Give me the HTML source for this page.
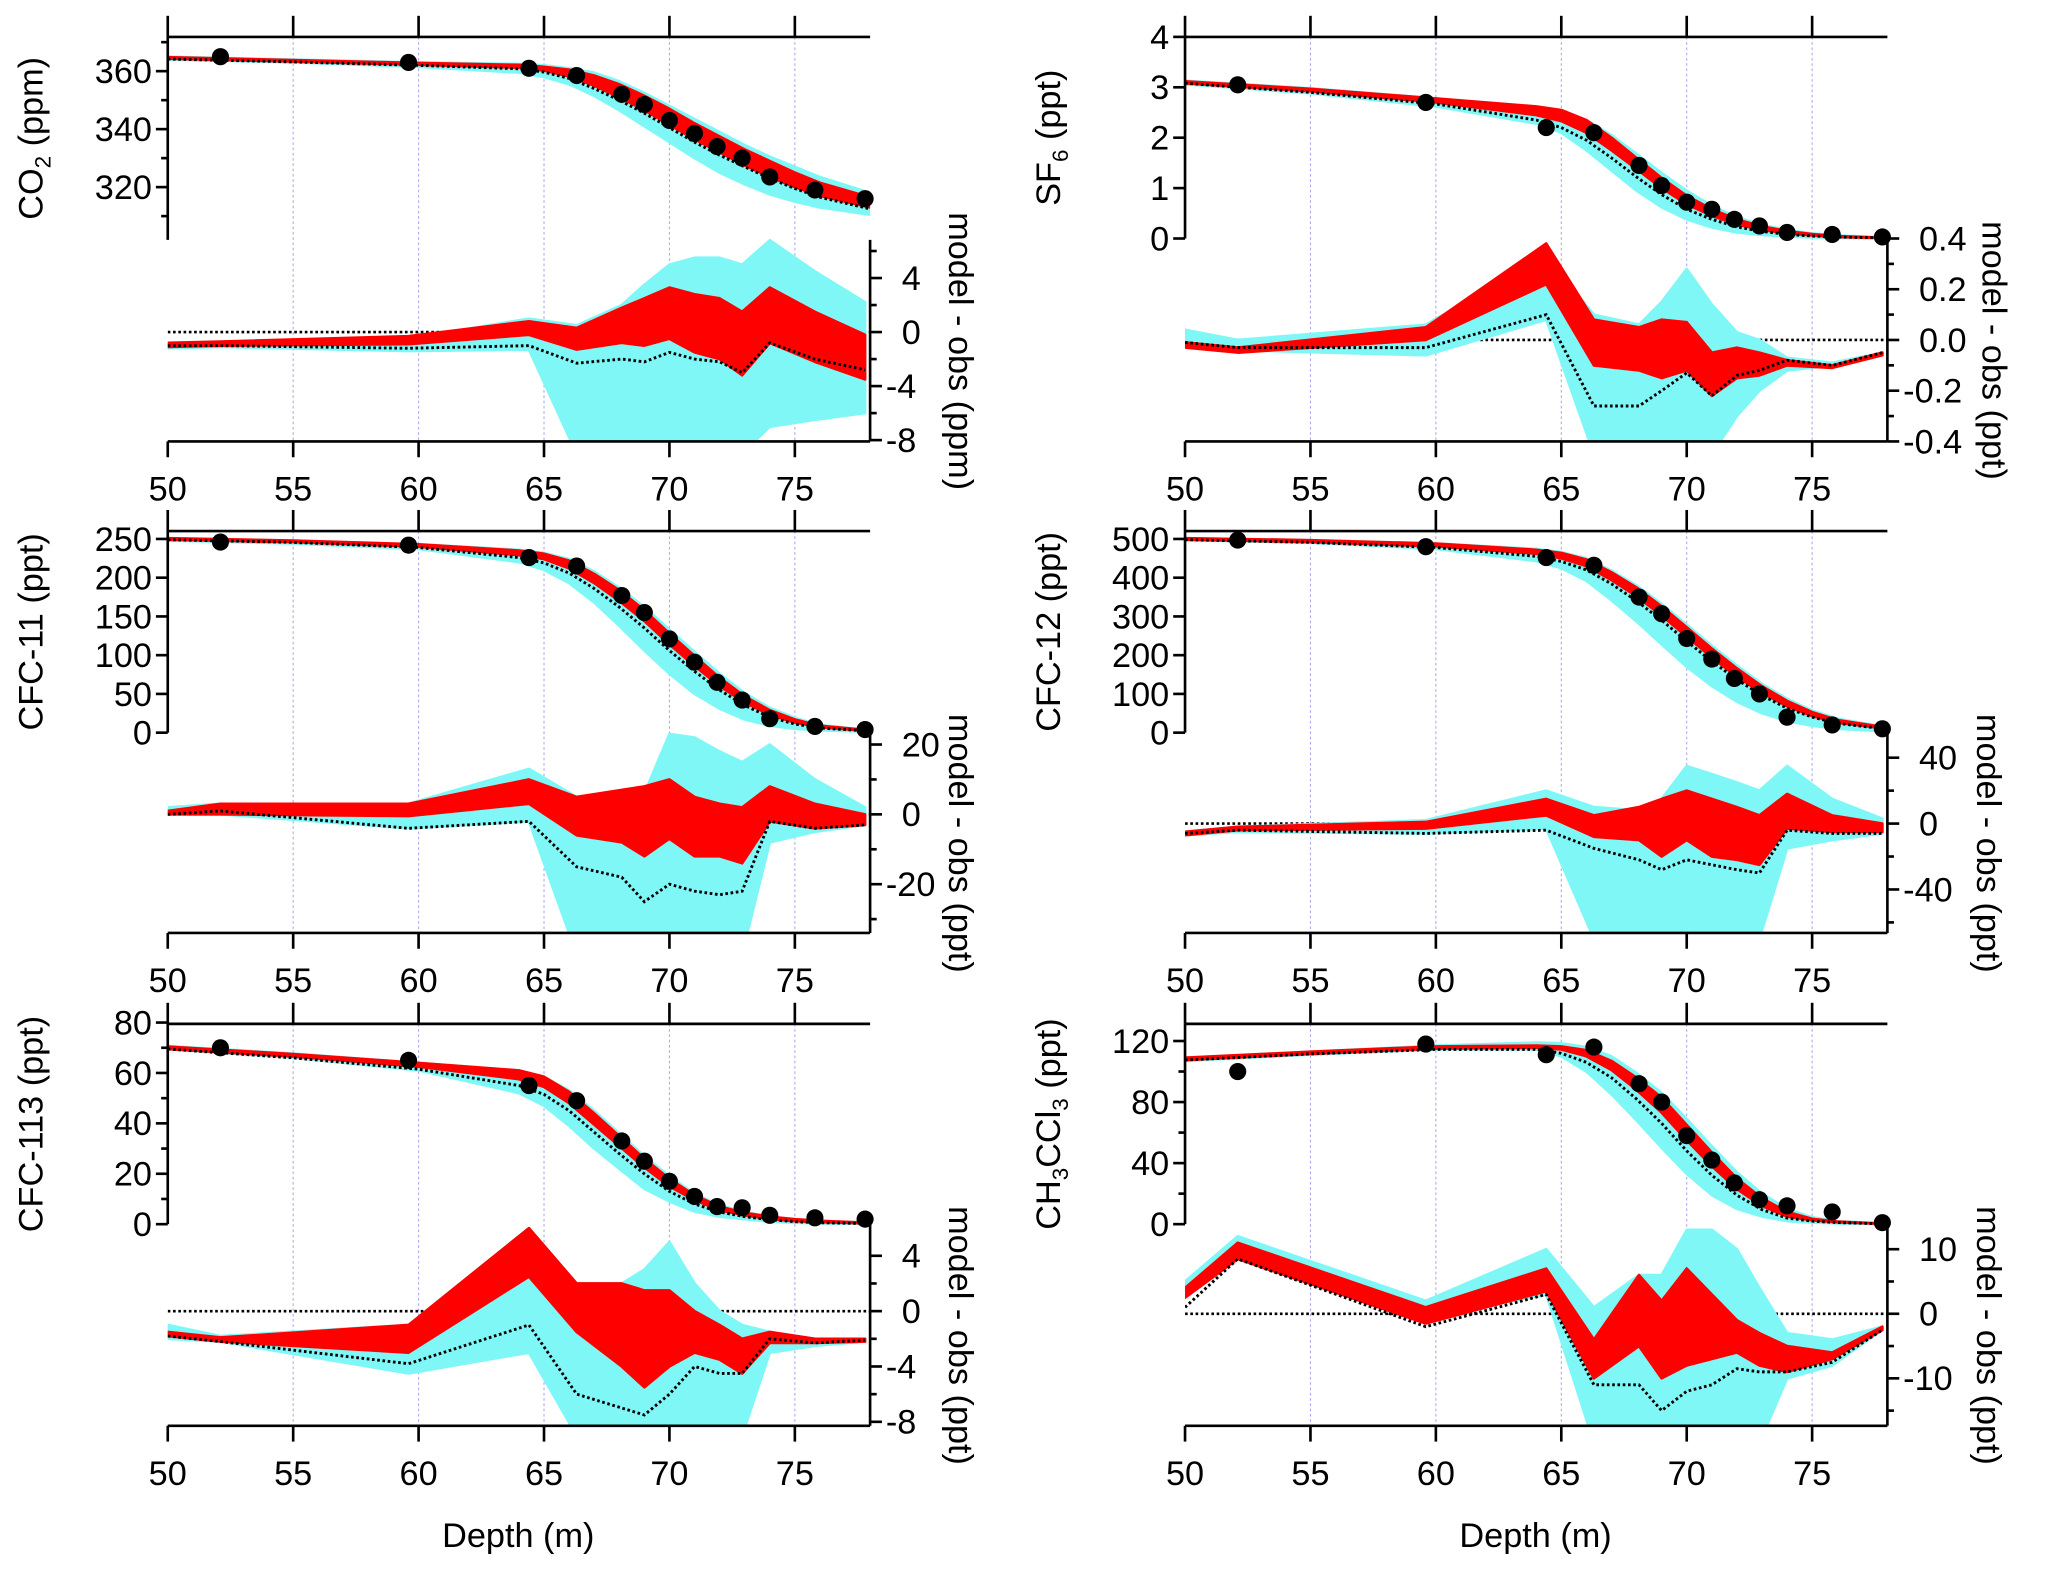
<!DOCTYPE html>
<html><head><meta charset="utf-8">
<style>
html,body{margin:0;padding:0;background:#fff;}
svg{display:block;font-family:"Liberation Sans Narrow","Liberation Sans",sans-serif;}
.tk{font-size:26px;fill:#000;}
.ttl{font-family:"Liberation Sans",sans-serif;font-size:26px;fill:#000;}
</style></head>
<body>
<svg id="chart" width="2067" height="1576" viewBox="0 0 1568 1196" xmlns="http://www.w3.org/2000/svg"></svg>
<script>
// ---------- shared depths ----------
const topDepth=[50,55,60,64,65,66,67,68,69,70,71,72,73,74,75,76,78];
const resDepth=[50,52.1,59.6,64.4,66.3,68.1,69,70,71,72,72.9,74,75.8,77.8];
const obsDepth=[52.1,59.6,64.4,66.3,68.1,69,70,71,71.9,72.9,74,75.8,77.8];
const xTicks=[50,55,60,65,70,75];

// ---------- CO2 ----------
const co2RedHi=[364.8,363.8,362.8,362.2,361.5,360.5,358.5,355.5,351.5,347,342,337.5,333,329,325,321.5,316.5];
const co2RedLo=[364.3,363.3,362.2,361.2,360.2,358.2,355,351,346.5,341.5,336.5,332,327.5,323.5,320,317,313];
const co2CyHi=[365,364,363,362.5,362,361,359.5,356.5,352.5,348,343.5,339,334.5,330.5,327,323.5,318];
const co2CyLo=[364,363,361.5,359.5,358,355.5,351.5,346.5,341,335.5,330,325,321,317.5,315,313,310.5];
const co2Dot=[364.2,363.2,362,360.8,359.7,357.5,354,350,345.5,340.5,335.5,331,327,323,319.5,316.5,312.5];
const co2Obs=[365,363,361,358.5,352,348.5,343,338.5,334,330,323.5,319,316];
const co2ResRedHi=[-0.8,-0.7,-0.3,0.8,0.3,1.8,2.5,3.3,2.8,2.5,1.5,3.3,1.5,-0.2];
const co2ResRedLo=[-1.1,-1,-0.9,-0.2,-1.3,-0.8,-1,-0.5,-1.5,-2,-3.2,-0.8,-2.2,-3.5];
const co2ResCyHi=[-0.9,-0.8,-0.5,1,0.5,2,3.5,5,5.5,5.5,5,6.8,4.5,2.2];
const co2ResCyLo=[-1.2,-1.1,-1.4,-1.3,-9,-9,-9,-9,-9,-9,-9,-7,-6.5,-6];
const co2ResDot=[-1,-1,-1.2,-1,-2.3,-2,-2.2,-1.5,-2,-2.2,-3,-0.8,-2,-2.8];
const co2Labels=[320,340,360], co2Minor=[310,330,350,370];
const co2ResLabels=[-8,-4,0,4], co2ResMinor=[-6,-2,2,6];

// ---------- SF6 ----------
const sf6RedHi=[3.12,2.97,2.78,2.62,2.55,2.35,2.0,1.6,1.2,0.85,0.58,0.38,0.24,0.15,0.09,0.05,0.01];
const sf6RedLo=[3.08,2.92,2.7,2.45,2.33,2.1,1.75,1.38,1.0,0.68,0.45,0.28,0.17,0.1,0.06,0.03,0.01];
const sf6CyHi=[3.13,2.98,2.78,2.6,2.52,2.35,2.05,1.68,1.3,0.95,0.65,0.42,0.27,0.17,0.1,0.06,0.02];
const sf6CyLo=[3.06,2.88,2.62,2.28,2.1,1.75,1.35,0.95,0.62,0.38,0.22,0.12,0.07,0.04,0.02,0.01,0];
const sf6Dot=[3.08,2.9,2.67,2.35,2.2,1.95,1.6,1.22,0.87,0.58,0.38,0.23,0.14,0.08,0.05,0.03,0.01];
const sf6Obs=[3.05,2.7,2.2,2.1,1.45,1.05,0.72,0.58,0.38,0.25,0.12,0.08,0.03];
const sf6ResRedHi=[-0.01,-0.03,0.05,0.38,0.08,0.05,0.08,0.07,-0.05,-0.03,-0.05,-0.08,-0.1,-0.05];
const sf6ResRedLo=[-0.03,-0.05,0.0,0.22,-0.1,-0.12,-0.15,-0.12,-0.22,-0.15,-0.14,-0.1,-0.11,-0.06];
const sf6ResCyHi=[0.04,0.0,0.06,0.33,0.1,0.06,0.15,0.28,0.14,0.03,0.0,-0.07,-0.09,-0.05];
const sf6ResCyLo=[0.0,-0.04,-0.06,0.08,-0.45,-0.45,-0.45,-0.45,-0.45,-0.3,-0.2,-0.12,-0.1,-0.06];
const sf6ResDot=[-0.01,-0.03,-0.03,0.1,-0.26,-0.26,-0.2,-0.13,-0.22,-0.14,-0.12,-0.08,-0.1,-0.05];
const sf6Labels=[0,1,2,3,4], sf6Minor=[];
const sf6ResLabels=[-0.4,-0.2,0,0.2,0.4], sf6ResMinor=[-0.3,-0.1,0.1,0.3];

// ---------- CFC-11 ----------
const f11RedHi=[251,248,243,235,231,222,205,184,158,128,99,71,47,29,17,9,3];
const f11RedLo=[249,246,240,229,224,212,193,170,144,114,86,60,39,23,13,7,2];
const f11CyHi=[251,248,243,236,232,224,208,187,162,133,104,76,51,32,19,10,3];
const f11CyLo=[248,244,237,220,210,193,168,138,106,76,50,31,17,9,5,3,1];
const f11Dot=[249,245.5,239,226,219,206,186,162,135,106,79,55,35,20,11,6,2];
const f11Obs=[246,242,226,215,177,155,121,91,65,42,18,8,4];
const f11ResRedHi=[1,3,3,10,5,7,8,10,5,3,2,8,3,0];
const f11ResRedLo=[0,0,-0.5,3,-6,-8,-12,-7,-12,-12,-14,-2,-4,-3];
const f11ResCyHi=[2,3,3,13,5,3,6,23,22,18,15,20,10,2];
const f11ResCyLo=[0,0,-4,-2,-40,-40,-40,-40,-40,-40,-40,-8,-5,-3];
const f11ResDot=[0,1,-4,-2,-15,-18,-25,-20,-22,-23,-22,-2,-4,-3];
const f11Labels=[0,50,100,150,200,250], f11Minor=[];
const f11ResLabels=[-20,0,20], f11ResMinor=[-30,-10,10];

// ---------- CFC-12 ----------
const f12RedHi=[502,497,488,472,464,447,414,375,326,272,217,166,120,82,53,33,13];
const f12RedLo=[498,492,481,462,450,430,394,352,302,248,194,145,102,68,43,26,10];
const f12CyHi=[502,497,488,474,466,450,418,380,332,279,224,173,126,87,57,36,14];
const f12CyLo=[497,490,474,443,425,392,342,287,228,170,120,80,50,30,18,10,3];
const f12Dot=[498,491,478,455,442,420,384,340,290,236,184,137,96,63,40,24,9];
const f12Obs=[497,480,452,432,350,307,243,190,140,100,40,20,10];
const f12ResRedHi=[-5,-2,1,15,5,10,15,20,15,10,5,18,5,0];
const f12ResRedLo=[-7,-4,-3,5,-8,-10,-20,-10,-20,-22,-25,-3,-5,-5];
const f12ResCyHi=[-5,-2,2,20,10,8,15,35,30,25,20,35,15,3];
const f12ResCyLo=[-7,-5,-6,-3,-70,-70,-70,-70,-70,-70,-70,-15,-10,-6];
const f12ResDot=[-6,-4,-6,-4,-15,-22,-28,-22,-25,-28,-30,-4,-6,-6];
const f12Labels=[0,100,200,300,400,500], f12Minor=[];
const f12ResLabels=[-40,0,40], f12ResMinor=[-60,-20,20];

// ---------- CFC-113 ----------
const f113RedHi=[70.5,67.5,64,61,58.5,52.5,44,35,26,18,11.5,7,4.5,3,2,1.3,0.5];
const f113RedLo=[69.5,66.5,62.5,57.5,54.5,48,39.5,31,22.5,15,9.5,5.5,3.5,2,1.2,0.8,0.3];
const f113CyHi=[70.7,67.7,64,61,58.5,53,45,36,27,19,12,7.5,4.8,3,2,1.3,0.5];
const f113CyLo=[69.5,66,61,52,47,39,30,22,14,9,5,3,2,1,0.5,0.3,0.1];
const f113Dot=[69.5,66,61.5,55,51.5,45,36.5,28,20,13,8,4.8,3,1.8,1,0.6,0.2];
const f113Obs=[70,65,55,49,33,25,17,11,7,6.5,3.5,2.5,2];
const f113ResRedHi=[-1.5,-1.9,-1,6,2,2,1.5,1.5,0,-1,-2,-1.5,-2,-2];
const f113ResRedLo=[-1.8,-2.2,-3,2.5,-1.5,-4,-5.5,-4,-3,-3.5,-4.5,-2.3,-2.3,-2.2];
const f113ResCyHi=[-1,-1.8,-1,6,2,2,3,5,2,0,-1,-1.5,-2,-2];
const f113ResCyLo=[-2,-2.2,-4.5,-3,-9,-9,-9,-9,-9,-9,-9,-3,-2.5,-2.2];
const f113ResDot=[-1.8,-2.2,-3.8,-1,-6,-7,-7.5,-6,-4,-4.5,-4.5,-2,-2.3,-2.1];
const f113Labels=[0,20,40,60,80], f113Minor=[10,30,50,70];
const f113ResLabels=[-8,-4,0,4], f113ResMinor=[-6,-2,2];

// ---------- CH3CCl3 ----------
const mcRedHi=[109,113,116.5,117,116.5,114,107,96,83,65,47,30,17,8,3.5,1.7,0.3];
const mcRedLo=[107.5,111.5,115,115.5,114.5,110,101,88,73,55,38,23,12,5,2.5,1.2,0.2];
const mcCyHi=[109,113,117,119,118.5,116,110,99,86,69,51,34,20,10,4.5,2,0.4];
const mcCyLo=[107,111,114.5,114.5,110,100,85,68,50,33,19,10,5,2,1,0.5,0];
const mcDot=[107.5,111.5,114.5,114.5,112,106,96,82,66,48,32,19,9.5,4,2,1,0.2];
const mcObs=[100,118,111,116,92,80,58,42,27,16,12,8,1];
const mcResRedHi=[4,11,1,7,-4,6,2,7,3,-1,-3,-5,-6,-2];
const mcResRedLo=[2.5,8.5,-1.5,3.5,-10,-5,-10,-8,-7,-6,-8,-9,-7,-2.5];
const mcResCyHi=[5,12,2,10,1,6,6,13,13,10,4,-3,-4,-2];
const mcResCyLo=[3,10,-0.5,3,-20,-20,-20,-20,-20,-20,-20,-10,-8,-2.5];
const mcResDot=[1,8.5,-2,3,-11,-11,-15,-12,-11,-8.5,-9,-9,-7.5,-2.5];
const mcLabels=[0,40,80,120], mcMinor=[20,60,100];
const mcResLabels=[-10,0,10], mcResMinor=[-15,-5,5];

const svg=document.getElementById('chart');
const NS='http://www.w3.org/2000/svg';
function mk(tag,attrs,parent){const e=document.createElementNS(NS,tag);for(const k in attrs)e.setAttribute(k,attrs[k]);(parent||svg).appendChild(e);return e;}
function lin(v1,p1,v2,p2){return v=>p1+(v-v1)*(p2-p1)/(v2-v1);}
let clipId=0;
function band(g,xs,hi,lo,xf,yf,color,name){
  let d='M'+xs.map((x,i)=>xf(x).toFixed(1)+','+yf(hi[i]).toFixed(1)).join('L');
  for(let i=xs.length-1;i>=0;i--)d+='L'+xf(xs[i]).toFixed(1)+','+yf(lo[i]).toFixed(1);
  const p=mk('path',{d:d+'Z',fill:color,stroke:color,'stroke-width':2,'stroke-linejoin':'round'},g);
  
  
}
function line(g,xs,ys,xf,yf,attrs,name){
  const p=mk('polyline',Object.assign({points:xs.map((x,i)=>xf(x).toFixed(1)+','+yf(ys[i]).toFixed(1)).join(' '),fill:'none'},attrs),g);
  
  
}
function fmt(v,dec){return dec?v.toFixed(dec):String(v);}

function panel(o){
  const g=mk('g',{});
  
  
  const xf=lin(50,o.x0,78,o.x1);
  const yT=lin(o.tv1,o.tp1,o.tv2,o.tp2);
  const yR=lin(o.rv1,o.rp1,o.rv2,o.rp2);
  xTicks.slice(1).forEach(t=>{const l=mk('line',{x1:xf(t),x2:xf(t),y1:o.top,y2:o.bot,stroke:'#a8a8f0','stroke-width':0.8,'stroke-dasharray':'2,2'},g);
    });
  const c1='c'+(clipId++),c2='c'+(clipId++);
  const defs=mk('defs',{},g);
  const cp1=mk('clipPath',{id:c1},defs);mk('rect',{x:o.x0,y:o.top,width:o.x1-o.x0,height:o.mid-o.top+6},cp1);
  const cp2=mk('clipPath',{id:c2},defs);mk('rect',{x:o.x0,y:o.top,width:o.x1-o.x0,height:o.bot-o.top},cp2);
  const gr=mk('g',{'clip-path':'url(#'+c2+')'},g);
  
  line(gr,[50,78],[0,0],xf,yR,{stroke:'#000','stroke-width':2,'stroke-dasharray':'2,2'},'zero-line');
  band(gr,resDepth,o.rCyHi,o.rCyLo,xf,yR,'#7ff7f7','residual-cyan-ensemble');
  band(gr,resDepth,o.rRedHi,o.rRedLo,xf,yR,'#ff0000','residual-red-ensemble');
  line(gr,resDepth,o.rDot,xf,yR,{stroke:'#000','stroke-width':2.2,'stroke-dasharray':'2,2'},'residual-reference-line');
  const gt=mk('g',{'clip-path':'url(#'+c1+')'},g);
  
  band(gt,topDepth,o.cyHi,o.cyLo,xf,yT,'#7ff7f7','profile-cyan-ensemble');
  band(gt,topDepth,o.redHi,o.redLo,xf,yT,'#ff0000','profile-red-ensemble');
  line(gt,topDepth,o.dot,xf,yT,{stroke:'#000','stroke-width':2.2,'stroke-dasharray':'2,2'},'profile-reference-line');
  o.obs.forEach((v,i)=>{const c=mk('circle',{cx:xf(obsDepth[i]),cy:yT(v),r:6.5,fill:'#000'},g);
    });
  const A={stroke:'#000','stroke-width':2};
  mk('line',Object.assign({x1:o.x0,x2:o.x1,y1:o.top,y2:o.top},A),g);
  mk('line',Object.assign({x1:o.x0,x2:o.x1,y1:o.bot,y2:o.bot},A),g);
  mk('line',Object.assign({x1:o.x0,x2:o.x0,y1:o.top,y2:o.mid},A),g);
  mk('line',Object.assign({x1:o.x1,x2:o.x1,y1:o.mid,y2:o.bot},A),g);
  xTicks.forEach(t=>{
    mk('line',Object.assign({x1:xf(t),x2:xf(t),y1:o.top-16,y2:o.top},A),g);
    mk('line',Object.assign({x1:xf(t),x2:xf(t),y1:o.bot,y2:o.bot+12},A),g);
    const tx=mk('text',{x:xf(t),y:o.bot+45,'text-anchor':'middle',class:'tk'},g);tx.textContent=t;
    
  });
  o.tl.forEach(v=>{const y=yT(v);mk('line',Object.assign({x1:o.x0-9,x2:o.x0,y1:y,y2:y},A),g);
    const tx=mk('text',{x:o.x0-12,y:y+9,'text-anchor':'end',class:'tk'},g);tx.textContent=fmt(v,0);
    });
  o.tm.forEach(v=>{const y=yT(v);if(y>=o.top&&y<=o.mid)mk('line',Object.assign({x1:o.x0-5,x2:o.x0,y1:y,y2:y},A),g);});
  o.rl.forEach(v=>{const y=yR(v);mk('line',Object.assign({x1:o.x1,x2:o.x1+9,y1:y,y2:y},A),g);
    const tx=mk('text',{x:o.x1+(v<0?12:24),y:y+9,'text-anchor':'start',class:'tk'},g);tx.textContent=fmt(v,o.rdec);
    });
  o.rm.forEach(v=>{const y=yR(v);if(y>=o.mid&&y<=o.bot)mk('line',Object.assign({x1:o.x1,x2:o.x1+5,y1:y,y2:y},A),g);});
  const lt=mk('text',{x:0,y:0,class:'ttl','text-anchor':'middle',transform:'translate('+(o.x0-95)+','+((o.top+o.mid)/2)+') rotate(-90)'},g);
  lt.innerHTML=o.lt;
  const rt=mk('text',{x:0,y:0,class:'ttl','text-anchor':'middle',transform:'translate('+(o.x1+o.rto)+','+((o.mid+o.bot)/2+8)+') rotate(90)'},g);
  rt.textContent=o.rt;
}
const L={x0:127,x1:660}, R={x0:899,x1:1432};
panel({id:'co2',x0:L.x0,x1:L.x1,rto:60,top:28,mid:182,bot:335,tv1:360,tp1:54,tv2:320,tp2:142,rv1:4,rp1:211,rv2:0,rp2:252,
  redHi:co2RedHi,redLo:co2RedLo,cyHi:co2CyHi,cyLo:co2CyLo,dot:co2Dot,obs:co2Obs,
  rRedHi:co2ResRedHi,rRedLo:co2ResRedLo,rCyHi:co2ResCyHi,rCyLo:co2ResCyLo,rDot:co2ResDot,
  tl:co2Labels,tm:co2Minor,rl:co2ResLabels,rm:co2ResMinor,rdec:0,lt:'CO<tspan font-size="17" dy="6">2</tspan><tspan dy="-6"> (ppm)</tspan>',rt:'model - obs (ppm)'});
panel({id:'sf6',x0:R.x0,x1:R.x1,rto:72,top:28,mid:181,bot:335,tv1:4,tp1:28,tv2:0,tp2:181,rv1:0.4,rp1:181,rv2:0,rp2:258,
  redHi:sf6RedHi,redLo:sf6RedLo,cyHi:sf6CyHi,cyLo:sf6CyLo,dot:sf6Dot,obs:sf6Obs,
  rRedHi:sf6ResRedHi,rRedLo:sf6ResRedLo,rCyHi:sf6ResCyHi,rCyLo:sf6ResCyLo,rDot:sf6ResDot,
  tl:sf6Labels,tm:sf6Minor,rl:sf6ResLabels,rm:sf6ResMinor,rdec:1,lt:'SF<tspan font-size="17" dy="6">6</tspan><tspan dy="-6"> (ppt)</tspan>',rt:'model - obs (ppt)'});
panel({id:'cfc11',x0:L.x0,x1:L.x1,rto:60,top:403,mid:556,bot:708,tv1:250,tp1:409,tv2:0,tp2:556,rv1:20,rp1:565,rv2:0,rp2:618,
  redHi:f11RedHi,redLo:f11RedLo,cyHi:f11CyHi,cyLo:f11CyLo,dot:f11Dot,obs:f11Obs,
  rRedHi:f11ResRedHi,rRedLo:f11ResRedLo,rCyHi:f11ResCyHi,rCyLo:f11ResCyLo,rDot:f11ResDot,
  tl:f11Labels,tm:f11Minor,rl:f11ResLabels,rm:f11ResMinor,rdec:0,lt:'CFC-11 (ppt)',rt:'model - obs (ppt)'});
panel({id:'cfc12',x0:R.x0,x1:R.x1,rto:68,top:403,mid:556,bot:708,tv1:500,tp1:409,tv2:0,tp2:556,rv1:40,rp1:575,rv2:0,rp2:625,
  redHi:f12RedHi,redLo:f12RedLo,cyHi:f12CyHi,cyLo:f12CyLo,dot:f12Dot,obs:f12Obs,
  rRedHi:f12ResRedHi,rRedLo:f12ResRedLo,rCyHi:f12ResCyHi,rCyLo:f12ResCyLo,rDot:f12ResDot,
  tl:f12Labels,tm:f12Minor,rl:f12ResLabels,rm:f12ResMinor,rdec:0,lt:'CFC-12 (ppt)',rt:'model - obs (ppt)'});
panel({id:'cfc113',x0:L.x0,x1:L.x1,rto:60,top:777,mid:929,bot:1082,tv1:80,tp1:776,tv2:0,tp2:929,rv1:4,rp1:953,rv2:0,rp2:995,
  redHi:f113RedHi,redLo:f113RedLo,cyHi:f113CyHi,cyLo:f113CyLo,dot:f113Dot,obs:f113Obs,
  rRedHi:f113ResRedHi,rRedLo:f113ResRedLo,rCyHi:f113ResCyHi,rCyLo:f113ResCyLo,rDot:f113ResDot,
  tl:f113Labels,tm:f113Minor,rl:f113ResLabels,rm:f113ResMinor,rdec:0,lt:'CFC-113 (ppt)',rt:'model - obs (ppt)'});
panel({id:'ch3ccl3',x0:R.x0,x1:R.x1,rto:68,top:777,mid:929,bot:1082,tv1:120,tp1:790,tv2:0,tp2:929,rv1:10,rp1:948,rv2:0,rp2:997,
  redHi:mcRedHi,redLo:mcRedLo,cyHi:mcCyHi,cyLo:mcCyLo,dot:mcDot,obs:mcObs,
  rRedHi:mcResRedHi,rRedLo:mcResRedLo,rCyHi:mcResCyHi,rCyLo:mcResCyLo,rDot:mcResDot,
  tl:mcLabels,tm:mcMinor,rl:mcResLabels,rm:mcResMinor,rdec:0,lt:'CH<tspan font-size="17" dy="6">3</tspan><tspan dy="-6">CCl</tspan><tspan font-size="17" dy="6">3</tspan><tspan dy="-6"> (ppt)</tspan>',rt:'model - obs (ppt)'});
[[393,'depth-axis-title-left'],[1165,'depth-axis-title-right']].forEach(a=>{
  const t=mk('text',{x:a[0],y:1174,'text-anchor':'middle',class:'ttl'});t.textContent='Depth (m)';
  });
</script>
</body></html>
